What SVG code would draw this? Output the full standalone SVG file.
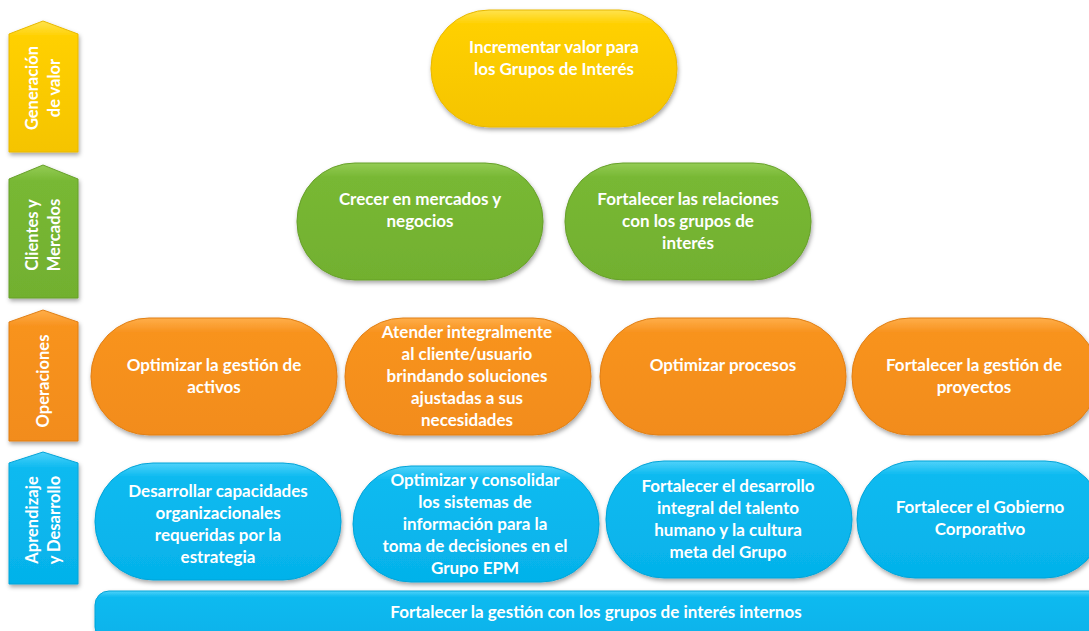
<svg xmlns="http://www.w3.org/2000/svg" width="1089" height="631" viewBox="0 0 1089 631">
<defs>
<linearGradient id="gY" x1="0" y1="0" x2="0" y2="1"><stop offset="0" stop-color="#FFE34D"/><stop offset="0.12" stop-color="#FFD000"/><stop offset="1" stop-color="#F5C400"/></linearGradient>
<linearGradient id="gG" x1="0" y1="0" x2="0" y2="1"><stop offset="0" stop-color="#94CC55"/><stop offset="0.12" stop-color="#78B834"/><stop offset="1" stop-color="#72B02F"/></linearGradient>
<linearGradient id="gO" x1="0" y1="0" x2="0" y2="1"><stop offset="0" stop-color="#FFAE4A"/><stop offset="0.12" stop-color="#F8931F"/><stop offset="1" stop-color="#F28C1B"/></linearGradient>
<linearGradient id="gB" x1="0" y1="0" x2="0" y2="1"><stop offset="0" stop-color="#4FD2FA"/><stop offset="0.12" stop-color="#0DBAF0"/><stop offset="1" stop-color="#05B2EA"/></linearGradient>
<filter id="sh" x="-10%" y="-10%" width="120%" height="130%"><feDropShadow dx="1" dy="2.5" stdDeviation="2" flood-color="#000" flood-opacity="0.35"/></filter>
<style>
text{font-family:Lato,"Open Sans","Liberation Sans",sans-serif;font-weight:bold;fill:#fff;text-anchor:middle;font-size:17px}
.lb{font-size:16.5px}
.b{stroke-width:1}
.y{fill:url(#gY);stroke:#E8B800}
.g{fill:url(#gG);stroke:#67A02A}
.o{fill:url(#gO);stroke:#E07F14}
.bl{fill:url(#gB);stroke:#04A4D8}
</style>
</defs>
<g id="labels">
<g id="lbl-generacion"><path class="y b" filter="url(#sh)" d="M9,34 L43,21 L78,34 L78,152 L9,152 Z"/>
<text class="lb" transform="translate(43,88) rotate(-90)"><tspan x="0" y="-5">Generación</tspan><tspan x="0" y="17">de valor</tspan></text></g>
<g id="lbl-clientes"><path class="g b" filter="url(#sh)" d="M9,179 L43,165 L78,179 L78,298 L9,298 Z"/>
<text class="lb" transform="translate(43,235) rotate(-90)"><tspan x="0" y="-5">Clientes  y</tspan><tspan x="0" y="17">Mercados</tspan></text></g>
<g id="lbl-operaciones"><path class="o b" filter="url(#sh)" d="M9,322 L43,310 L78,322 L78,441 L9,441 Z"/>
<text class="lb" transform="translate(43,381) rotate(-90)"><tspan x="0" y="6">Operaciones</tspan></text></g>
<g id="lbl-aprendizaje"><path class="bl b" filter="url(#sh)" d="M9,463 L43,452 L78,463 L78,584 L9,584 Z"/>
<text class="lb" transform="translate(43,520) rotate(-90)"><tspan x="0" y="-5">Aprendizaje</tspan><tspan x="0" y="17">y Desarrollo</tspan></text></g>
</g>
<g id="connectors"></g>
<g id="n1"><rect class="y b" filter="url(#sh)" x="431" y="10" width="246" height="117" rx="58"/>
<text x="554" y="53">Incrementar valor para</text><text x="554" y="75">los Grupos de Interés</text></g>
<g id="n2"><rect class="g b" filter="url(#sh)" x="297" y="163" width="246" height="117" rx="58"/>
<text x="420" y="205">Crecer en mercados y</text><text x="420" y="227">negocios</text></g>
<g id="n3"><rect class="g b" filter="url(#sh)" x="565" y="163" width="246" height="117" rx="58"/>
<text x="688" y="205">Fortalecer las relaciones</text><text x="688" y="227">con los grupos de</text><text x="688" y="249">interés</text></g>
<g id="n4"><rect class="o b" filter="url(#sh)" x="91" y="318" width="246" height="117" rx="58"/>
<text x="214" y="371">Optimizar la gestión de</text><text x="214" y="393">activos</text></g>
<g id="n5"><rect class="o b" filter="url(#sh)" x="345" y="318" width="246" height="117" rx="58"/>
<text x="467" y="338">Atender integralmente</text><text x="467" y="360">al cliente/usuario</text><text x="467" y="382">brindando soluciones</text><text x="467" y="404">ajustadas a sus</text><text x="467" y="426">necesidades</text></g>
<g id="n6"><rect class="o b" filter="url(#sh)" x="600" y="318" width="246" height="117" rx="58"/>
<text x="723" y="371">Optimizar procesos</text></g>
<g id="n7"><rect class="o b" filter="url(#sh)" x="852" y="318" width="246" height="117" rx="58"/>
<text x="974" y="371">Fortalecer la gestión de</text><text x="974" y="393">proyectos</text></g>
<g id="n8"><rect class="bl b" filter="url(#sh)" x="95" y="463" width="246" height="117" rx="58"/>
<text x="218" y="497">Desarrollar capacidades</text><text x="218" y="519">organizacionales</text><text x="218" y="541">requeridas por la</text><text x="218" y="563">estrategia</text></g>
<g id="n9"><rect class="bl b" filter="url(#sh)" x="353" y="466" width="246" height="116" rx="58"/>
<text x="475" y="486">Optimizar y consolidar</text><text x="475" y="508">los sistemas de</text><text x="475" y="530">información para la</text><text x="475" y="552">toma de decisiones en el</text><text x="475" y="574">Grupo EPM</text></g>
<g id="n10"><rect class="bl b" filter="url(#sh)" x="606" y="461" width="246" height="117" rx="58"/>
<text x="728" y="492">Fortalecer el desarrollo</text><text x="728" y="514">integral del talento</text><text x="728" y="536">humano y la cultura</text><text x="728" y="558">meta del Grupo</text></g>
<g id="n11"><rect class="bl b" filter="url(#sh)" x="857" y="461" width="246" height="117" rx="58"/>
<text x="980" y="513">Fortalecer el Gobierno</text><text x="980" y="535">Corporativo</text></g>
<g id="n12"><rect class="bl b" filter="url(#sh)" x="95" y="591" width="1010" height="50" rx="14"/>
<text x="596" y="618">Fortalecer la gestión con los grupos de interés internos</text></g>
</svg>
